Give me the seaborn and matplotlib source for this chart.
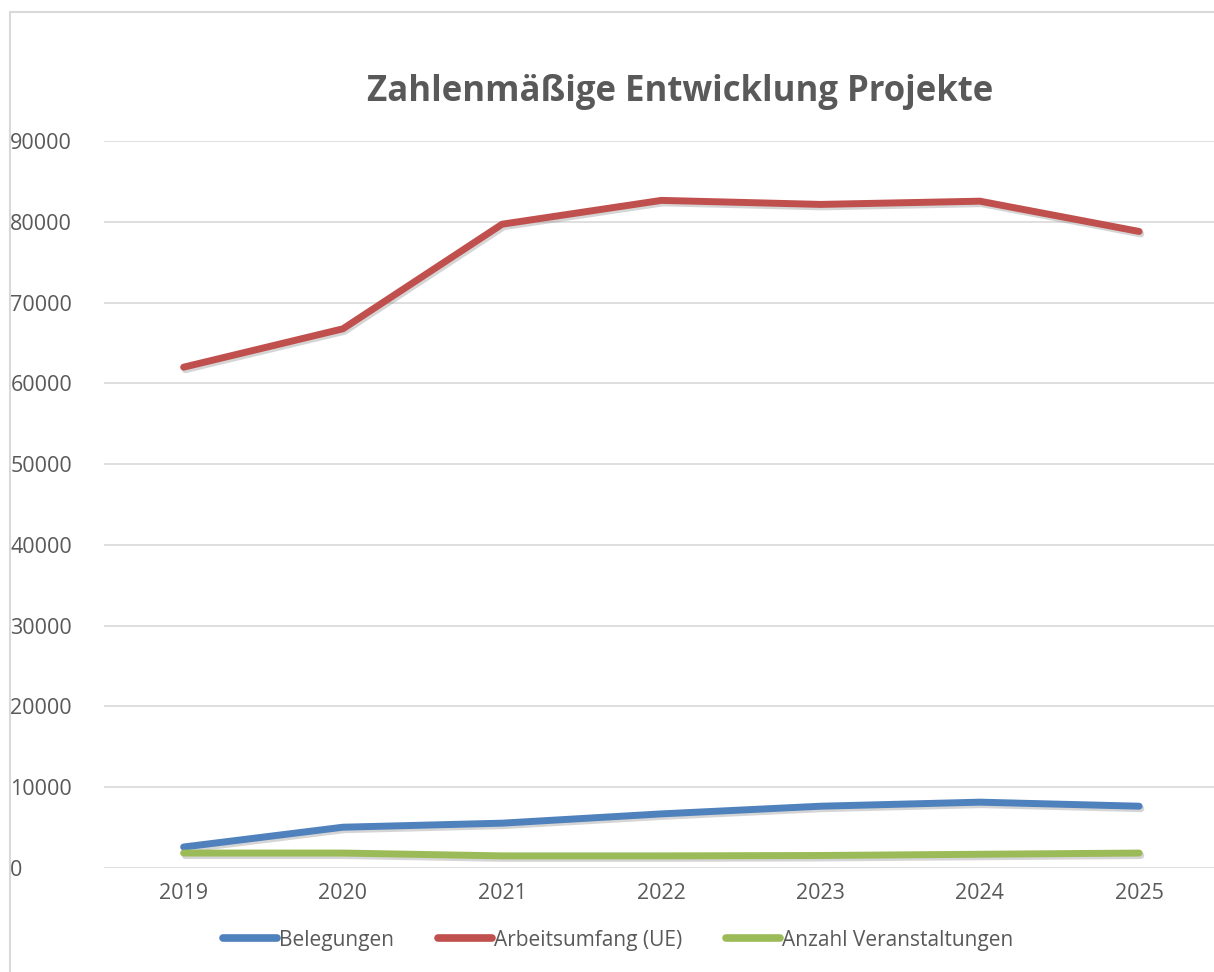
import matplotlib

matplotlib.use("Agg")

import matplotlib.patheffects as pe
import matplotlib.pyplot as plt
import pandas as pd
import seaborn as sns
from matplotlib.patches import Rectangle

# Data
years = ["2019", "2020", "2021", "2022", "2023", "2024", "2025"]
belegungen = [2600, 5050, 5550, 6700, 7650, 8150, 7650]
arbeitsumfang = [62000, 66750, 79700, 82650, 82150, 82550, 78800]
veranstaltungen = [1850, 1850, 1500, 1500, 1550, 1700, 1850]

series_names = ["Belegungen", "Arbeitsumfang (UE)", "Anzahl Veranstaltungen"]
colors = ["#4F81BD", "#C0504D", "#9BBB59"]
title = "Zahlenmäßige Entwicklung Projekte"

df = pd.DataFrame(
    {
        "Jahr": years * 3,
        "Wert": belegungen + arbeitsumfang + veranstaltungen,
        "Serie": [series_names[0]] * 7 + [series_names[1]] * 7 + [series_names[2]] * 7,
    }
)

sns.set_theme(style="white")
plt.rcParams["font.family"] = ["Open Sans", "DejaVu Sans"]

W, H = 1214, 972
fig = plt.figure(figsize=(W / 100, H / 100), dpi=100)
ax = fig.add_axes([104 / W, 1 - 868 / H, 1 - 104 / W, (868 - 141) / H])

# Outer chart border
fig.patches.append(
    Rectangle((10 / W, -0.01), 1.0, 1 - 12 / H + 0.01, transform=fig.transFigure,
              fill=False, edgecolor="#D9D9D9", linewidth=1.5)
)

shadow = [pe.SimpleLineShadow(offset=(1.2, -1.8), shadow_color="#888888", alpha=0.35), pe.Normal()]

sns.lineplot(
    data=df, x="Jahr", y="Wert", hue="Serie", hue_order=series_names,
    palette=colors, linewidth=5, ax=ax, legend=False,
)
for line in ax.lines:
    line.set_path_effects(shadow)
    line.set_solid_capstyle("round")

ax.set_ylim(0, 90000)
ax.set_xlim(-0.5, 6.47)
ax.set_yticks(range(0, 90001, 10000))
ax.yaxis.grid(True, color="#D9D9D9", linewidth=1.2)
ax.set_axisbelow(True)
for s in ax.spines.values():
    s.set_visible(False)
ax.set_xlabel("")
ax.set_ylabel("")
ax.tick_params(axis="both", length=0, labelsize=15.5, labelcolor="#595959")
ax.tick_params(axis="y", pad=67.5)
for lab in ax.get_yticklabels():
    lab.set_horizontalalignment("left")
ax.tick_params(axis="x", pad=11)

fig.text(680 / W, 1 - 92 / H, title, ha="center", va="center",
         fontsize=25, fontweight="bold", color="#595959")

handles = [plt.Line2D([0], [0], color=c, linewidth=5.5, solid_capstyle="round") for c in colors]
fig.legend(handles, series_names, loc="center", bbox_to_anchor=(618 / W, 1 - 940 / H),
           ncol=3, frameon=False, fontsize=15, labelcolor="#595959",
           handlelength=2.6, handletextpad=0.1, columnspacing=2.1)

fig.savefig("out.png", dpi=100)
